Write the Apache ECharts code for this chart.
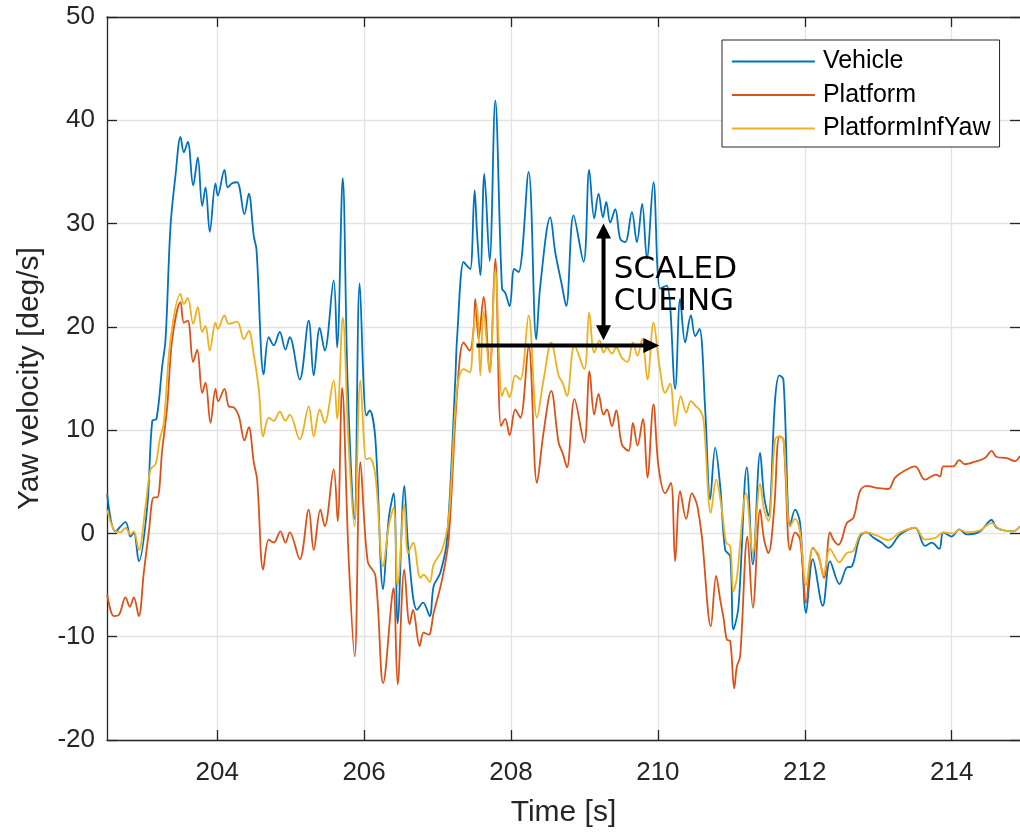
<!DOCTYPE html>
<html><head><meta charset="utf-8">
<script src="https://cdn.jsdelivr.net/npm/echarts@6/dist/echarts.min.js"></script>
<style>html,body{margin:0;padding:0;background:#fff}#c{width:1020px;height:833px}</style>
</head><body><div id="c"></div>
<script>
// ---- data (time [s], yaw velocity [deg/s]) ----
const seriesNames = ['Vehicle', 'Platform', 'PlatformInfYaw'];
const xTickValues = [204, 206, 208, 210, 212, 214];
const yTickValues = [-20, -10, 0, 10, 20, 30, 40, 50];

const vehiclePts = [
[202.503,3.8],[202.616,0.2],[202.752,1.1],[202.820,-0.3],[202.865,0.1],[202.933,-2.7],[203.048,2.6],[203.116,10.9],[203.174,11.1],[203.252,16.2],
[203.297,18.8],[203.365,29.8],[203.433,34.7],[203.501,38.4],[203.546,36.9],[203.600,37.9],[203.673,33.7],[203.736,36.4],[203.796,31.7],[203.841,33.5],
[203.899,29.2],[203.977,33.9],[204.008,32.7],[204.099,35.2],[204.144,33.5],[204.204,33.9],[204.272,34.0],[204.371,30.9],[204.430,32.9],[204.498,28.8],
[204.535,27.5],[204.634,15.4],[204.702,19.0],[204.770,18.2],[204.852,19.5],[204.929,17.8],[204.988,19.0],[205.124,14.9],[205.246,20.6],[205.314,15.3],
[205.396,19.9],[205.464,17.7],[205.586,24.5],[205.633,18.0],[205.709,34.4],[205.777,14.3],[205.868,1.4],[205.940,24.2],[206.031,11.4],[206.076,11.9],
[206.154,9.1],[206.259,-5.4],[206.335,1.4],[206.403,3.9],[206.457,-8.7],[206.548,4.6],[206.607,-1.9],[206.721,-7.4],[206.803,-6.7],[206.893,-8.0],
[206.947,-5.1],[207.038,-3.8],[207.129,-0.6],[207.242,14.9],[207.265,18.8],[207.355,26.3],[207.401,25.9],[207.446,25.6],[207.505,33.2],[207.537,29.2],
[207.582,25.0],[207.637,34.8],[207.709,26.4],[207.786,41.9],[207.878,23.7],[207.922,23.3],[207.981,22.0],[208.045,25.6],[208.103,25.3],[208.240,35.0],
[208.344,18.8],[208.399,24.0],[208.535,30.6],[208.603,27.2],[208.694,24.0],[208.752,22.0],[208.852,30.8],[208.988,26.3],[209.065,35.2],[209.133,30.5],
[209.192,32.9],[209.252,30.6],[209.297,32.1],[209.351,30.1],[209.419,31.4],[209.487,28.5],[209.555,28.2],[209.646,31.1],[209.714,28.2],[209.786,31.9],
[209.850,26.6],[209.940,34.0],[210.031,23.7],[210.122,24.0],[210.235,14.0],[210.303,22.7],[210.371,18.5],[210.449,21.1],[210.508,19.1],[210.566,19.8],
[210.644,12.0],[210.712,3.3],[210.780,8.3],[210.848,4.6],[210.916,-1.6],[210.984,-2.2],[211.029,-9.3],[211.097,-7.1],[211.211,6.4],[211.293,-3.0],
[211.392,7.8],[211.446,3.6],[211.505,1.7],[211.596,13.0],[211.654,15.3],[211.709,14.9],[211.800,0.7],[211.868,2.3],[211.936,1.0],[212.018,-7.7],
[212.109,-2.5],[212.245,-7.0],[212.344,-2.7],[212.471,-4.9],[212.571,-3.3],[212.639,-3.2],[212.752,-0.3],[212.844,0.1],[212.933,-0.4],[213.048,-0.9],
[213.137,-1.4],[213.297,-0.1],[213.501,0.55],[213.637,-1.2],[213.728,-0.9],[213.831,-1.5],[213.886,0.1],[214.000,-0.3],[214.103,0.4],[214.204,-0.1],
[214.385,0.2],[214.544,1.3],[214.612,0.55],[214.838,0.2],[214.929,0.7]
];

const platformPts = [
[202.503,-5.9],[202.593,-8.0],[202.661,-7.9],[202.752,-6.2],[202.811,-7.1],[202.865,-6.2],[202.933,-8.0],[203.001,-3.8],[203.069,0.1],[203.137,3.5],
[203.184,3.5],[203.252,8.1],[203.320,12.3],[203.388,18.8],[203.501,22.4],[203.546,20.4],[203.600,20.6],[203.673,16.6],[203.728,17.8],[203.796,13.6],
[203.841,14.6],[203.909,10.7],[203.977,14.0],[204.014,12.8],[204.099,14.0],[204.158,12.3],[204.226,12.2],[204.294,11.4],[204.371,9.0],[204.430,10.3],
[204.498,6.9],[204.544,5.2],[204.626,-3.5],[204.702,-0.6],[204.770,-0.9],[204.861,0.2],[204.929,-0.9],[204.988,0.1],[205.124,-2.5],[205.246,2.3],
[205.314,-1.6],[205.405,2.3],[205.464,0.7],[205.586,6.2],[205.641,1.2],[205.701,14.1],[205.790,-2.4],[205.872,-11.9],[205.950,6.9],[206.049,-2.7],
[206.154,-4.1],[206.259,-14.5],[206.381,-6.1],[206.403,-5.3],[206.457,-14.6],[206.548,-3.5],[206.620,-8.8],[206.667,-7.4],[206.756,-10.9],[206.811,-9.6],
[206.879,-9.8],[206.947,-7.7],[207.061,-4.5],[207.151,-0.6],[207.265,13.5],[207.355,18.5],[207.437,17.7],[207.491,19.8],[207.514,22.7],[207.559,18.8],
[207.627,22.9],[207.709,15.6],[207.786,26.6],[207.864,10.4],[207.922,11.1],[207.981,9.5],[208.059,12.0],[208.127,11.2],[208.240,18.2],[208.354,4.9],
[208.444,9.8],[208.548,13.8],[208.648,8.8],[208.707,7.7],[208.762,6.4],[208.865,13.0],[208.997,8.8],[209.069,15.7],[209.133,11.5],[209.192,13.5],
[209.260,11.5],[209.306,12.0],[209.374,10.4],[209.433,11.9],[209.510,8.6],[209.600,8.0],[209.660,10.7],[209.722,8.5],[209.796,11.1],[209.858,5.4],
[209.940,12.5],[210.008,6.5],[210.099,3.9],[210.177,4.9],[210.235,-2.7],[210.303,4.1],[210.385,1.4],[210.463,3.9],[210.508,3.3],[210.539,2.6],
[210.599,-0.3],[210.721,-9.0],[210.793,-4.1],[210.848,-6.4],[210.894,-8.2],[210.939,-10.3],[210.984,-10.4],[211.039,-15.0],[211.075,-12.9],[211.120,-11.9],
[211.219,-0.3],[211.293,-7.2],[211.392,2.3],[211.446,-0.6],[211.505,-1.9],[211.582,2.3],[211.654,9.4],[211.709,9.1],[211.800,-1.6],[211.868,0.1],
[211.936,-0.6],[212.018,-6.7],[212.109,-1.4],[212.185,-2.2],[212.262,-4.3],[212.344,0.1],[212.389,-0.6],[212.457,-1.1],[212.503,-0.6],[212.571,1.0],
[212.661,1.5],[212.752,4.1],[212.844,4.6],[212.980,4.4],[213.137,4.3],[213.228,5.4],[213.341,6.0],[213.501,6.5],[213.637,5.2],[213.786,5.7],
[213.841,5.5],[213.886,6.5],[214.022,6.5],[214.103,7.1],[214.181,6.7],[214.340,7.0],[214.453,7.3],[214.544,8.0],[214.612,7.4],[214.748,7.3],
[214.861,7.0],[214.929,7.5]
];

const infYawPts = [
[202.503,2.3],[202.593,0.4],[202.684,0.1],[202.752,0.55],[202.820,-0.1],[202.865,0.2],[202.933,-1.6],[203.024,2.6],[203.093,6.2],[203.161,6.7],
[203.219,9.1],[203.273,10.7],[203.365,18.8],[203.501,23.2],[203.546,22.2],[203.600,22.8],[203.673,20.3],[203.736,21.9],[203.796,19.5],[203.841,20.1],
[203.899,17.7],[203.977,20.4],[204.008,19.8],[204.099,21.1],[204.158,20.3],[204.272,20.5],[204.362,18.8],[204.430,19.6],[204.498,17.3],[204.566,14.0],
[204.626,9.4],[204.702,11.2],[204.770,10.9],[204.852,11.8],[204.929,10.9],[204.988,11.5],[205.124,9.1],[205.246,12.3],[205.314,9.4],[205.396,12.0],
[205.464,10.7],[205.586,14.8],[205.633,11.1],[205.709,20.9],[205.790,8.5],[205.868,0.7],[205.950,14.8],[206.031,7.2],[206.076,7.3],[206.154,5.6],
[206.259,-3.2],[206.335,0.7],[206.403,2.5],[206.457,-5.1],[206.548,2.8],[206.599,-1.9],[206.667,-0.9],[206.766,-4.3],[206.811,-4.0],[206.893,-4.7],
[206.947,-3.0],[207.061,-1.6],[207.151,1.4],[207.265,14.0],[207.355,15.9],[207.437,15.6],[207.491,19.8],[207.537,22.0],[207.582,15.3],[207.627,21.5],
[207.709,15.6],[207.786,25.5],[207.878,13.3],[207.922,14.1],[207.981,13.2],[208.059,15.3],[208.127,14.9],[208.240,21.1],[208.354,11.2],[208.444,14.9],
[208.548,18.5],[208.648,15.3],[208.707,14.5],[208.762,13.3],[208.865,18.2],[208.997,15.9],[209.065,21.4],[209.133,17.5],[209.205,18.7],[209.260,17.5],
[209.306,18.0],[209.374,17.4],[209.433,18.0],[209.510,17.0],[209.586,16.6],[209.660,18.5],[209.722,17.2],[209.786,18.8],[209.858,14.9],[209.940,20.4],
[210.022,16.2],[210.099,13.6],[210.167,14.5],[210.235,10.4],[210.312,13.3],[210.385,11.7],[210.449,12.8],[210.521,12.3],[210.566,12.0],[210.620,11.1],
[210.721,2.0],[210.793,5.2],[210.871,2.3],[210.930,-0.9],[210.984,-1.2],[211.029,-5.6],[211.075,-4.3],[211.201,3.9],[211.293,-1.9],[211.392,4.8],
[211.446,2.3],[211.505,1.2],[211.596,9.1],[211.654,9.4],[211.709,9.1],[211.800,0.7],[211.868,1.4],[211.936,0.1],[212.018,-5.0],[212.109,-1.5],
[212.185,-2.0],[212.253,-4.1],[212.344,-1.5],[212.471,-2.8],[212.571,-1.9],[212.661,-1.7],[212.752,-0.1],[212.844,0.1],[212.980,-0.2],[213.137,-0.65],
[213.297,0.1],[213.501,0.55],[213.637,-0.6],[213.786,-0.4],[213.886,0.1],[214.022,0.0],[214.103,0.4],[214.204,0.1],[214.385,0.3],[214.544,1.0],
[214.657,0.4],[214.838,0.2],[214.929,0.7]
];

// annotation anchors in data units
const cueVertical = [209.26, 30.0, 18.7];   // t, top value, bottom value
const cueHorizontal = [207.53, 210.02, 18.2]; // t start, t tip, value
const cueLabelLines = ['SCALED', 'CUEING'];
const cueLabelAnchor = [209.40, 25.5, 22.45]; // t, line1 value, line2 value

const xMin = 202.5, xMax = 214.93, yMin = -20, yMax = 50;
const colors = ['#0072BD', '#D95319', '#EDB120'];
const axisColor = '#262626';
const font = '"Liberation Sans", Arial, Helvetica, sans-serif';

const chart = echarts.init(document.getElementById('c'), null, { renderer: 'canvas' });

const baseX = {
  type: 'value', min: xMin, max: xMax, splitNumber: 6,
  axisLine: { show: true, onZero: false, lineStyle: { color: axisColor, width: 1.3 } },
  axisTick: { show: true, inside: true, length: 10, lineStyle: { color: axisColor, width: 1.3 } },
};
const baseY = {
  type: 'value', min: yMin, max: yMax, interval: 10,
  axisLine: { show: true, onZero: false, lineStyle: { color: axisColor, width: 1.3 } },
  axisTick: { show: true, inside: true, length: 10, lineStyle: { color: axisColor, width: 1.3 } },
};

const option = {
  animation: false,
  backgroundColor: '#fff',
  color: colors,
  grid: { left: 107, right: 0, top: 17, bottom: 93, containLabel: false },
  legend: {
    orient: 'vertical', left: 722, top: 40, padding: [9, 9, 6, 9], itemGap: 8.5,
    itemWidth: 83, itemHeight: 22,
    borderColor: axisColor, borderWidth: 1, backgroundColor: '#fff',
    itemStyle: { color: 'rgba(0,0,0,0)', borderWidth: 0, opacity: 0 },
    lineStyle: { width: 1.8 },
    textStyle: { fontSize: 25, lineHeight: 22, fontFamily: font, color: '#000', padding: [0, 0, 0, 3] },
    data: seriesNames
  },
  xAxis: [
    Object.assign({}, baseX, {
      position: 'bottom',
      name: 'Time [s]', nameLocation: 'middle', nameGap: 58,
      nameTextStyle: { fontSize: 30, fontFamily: font, color: axisColor },
      axisLabel: { show: true, fontSize: 26, fontFamily: font, color: axisColor, margin: 20,
        customValues: xTickValues },
      axisTick: Object.assign({}, baseX.axisTick, { customValues: xTickValues }),
      splitLine: { show: true, lineStyle: { color: '#e3e3e3', width: 1.3 } }
    }),
    Object.assign({}, baseX, {
      position: 'top',
      axisLabel: { show: false },
      axisTick: Object.assign({}, baseX.axisTick, { customValues: xTickValues }),
      splitLine: { show: false }
    })
  ],
  yAxis: [
    Object.assign({}, baseY, {
      position: 'left',
      name: 'Yaw velocity [deg/s]', nameLocation: 'middle', nameGap: 62,
      nameTextStyle: { fontSize: 30, fontFamily: font, color: axisColor },
      axisLabel: { show: true, fontSize: 26, fontFamily: font, color: axisColor, margin: 12,
        formatter: v => String(v) },
      splitLine: { show: true, lineStyle: { color: '#e3e3e3', width: 1.3 } }
    }),
    Object.assign({}, baseY, {
      position: 'right',
      axisLine: { show: false },
      axisLabel: { show: false },
      splitLine: { show: false }
    })
  ],
  series: [
    { name: seriesNames[0], type: 'line', data: vehiclePts },
    { name: seriesNames[1], type: 'line', data: platformPts },
    { name: seriesNames[2], type: 'line', data: infYawPts }
  ].map((s, i) => Object.assign(s, {
    xAxisIndex: 0, yAxisIndex: 0,
    symbol: 'none', showSymbol: false, smooth: 0.35,
    lineStyle: { width: 1.8, color: colors[i] },
    itemStyle: { color: colors[i] },
    emphasis: { disabled: true }
  }))
};

chart.setOption(option);

function drawAnnotations() {
  const px = (t, v) => chart.convertToPixel({ seriesIndex: 0 }, [t, v]);
  const vt = px(cueVertical[0], cueVertical[1]);
  const vb = px(cueVertical[0], cueVertical[2]);
  const hs = px(cueHorizontal[0], cueHorizontal[2]);
  const he = px(cueHorizontal[1], cueHorizontal[2]);
  const hl = 15, hw = 7.5, lw = 4;
  const l1 = px(cueLabelAnchor[0], cueLabelAnchor[1]);
  const l2 = px(cueLabelAnchor[0], cueLabelAnchor[2]);
  const black = '#000';
  chart.setOption({
    graphic: [
      { type: 'line', z: 100, shape: { x1: vt[0], y1: vt[1] + hl - 2, x2: vb[0], y2: vb[1] - hl + 2 },
        style: { stroke: black, lineWidth: lw } },
      { type: 'polygon', z: 100, shape: { points: [[vt[0], vt[1]], [vt[0] - hw, vt[1] + hl], [vt[0] + hw, vt[1] + hl]] },
        style: { fill: black } },
      { type: 'polygon', z: 100, shape: { points: [[vb[0], vb[1]], [vb[0] - hw, vb[1] - hl], [vb[0] + hw, vb[1] - hl]] },
        style: { fill: black } },
      { type: 'line', z: 100, shape: { x1: hs[0], y1: hs[1], x2: he[0] - hl + 2, y2: he[1] },
        style: { stroke: black, lineWidth: lw } },
      { type: 'polygon', z: 100, shape: { points: [[he[0], he[1]], [he[0] - hl - 1, he[1] - hw], [he[0] - hl - 1, he[1] + hw]] },
        style: { fill: black } },
      { type: 'text', z: 100, x: l1[0], y: l1[1],
        style: { text: cueLabelLines[0], fontSize: 31, fontFamily: '"DejaVu Sans", sans-serif', fill: black,
          align: 'left', verticalAlign: 'middle', textAlign: 'left', textVerticalAlign: 'middle' } },
      { type: 'text', z: 100, x: l2[0], y: l2[1],
        style: { text: cueLabelLines[1], fontSize: 31, fontFamily: '"DejaVu Sans", sans-serif', fill: black,
          align: 'left', verticalAlign: 'middle', textAlign: 'left', textVerticalAlign: 'middle' } }
    ]
  });
}
drawAnnotations();
</script>
</body></html>
